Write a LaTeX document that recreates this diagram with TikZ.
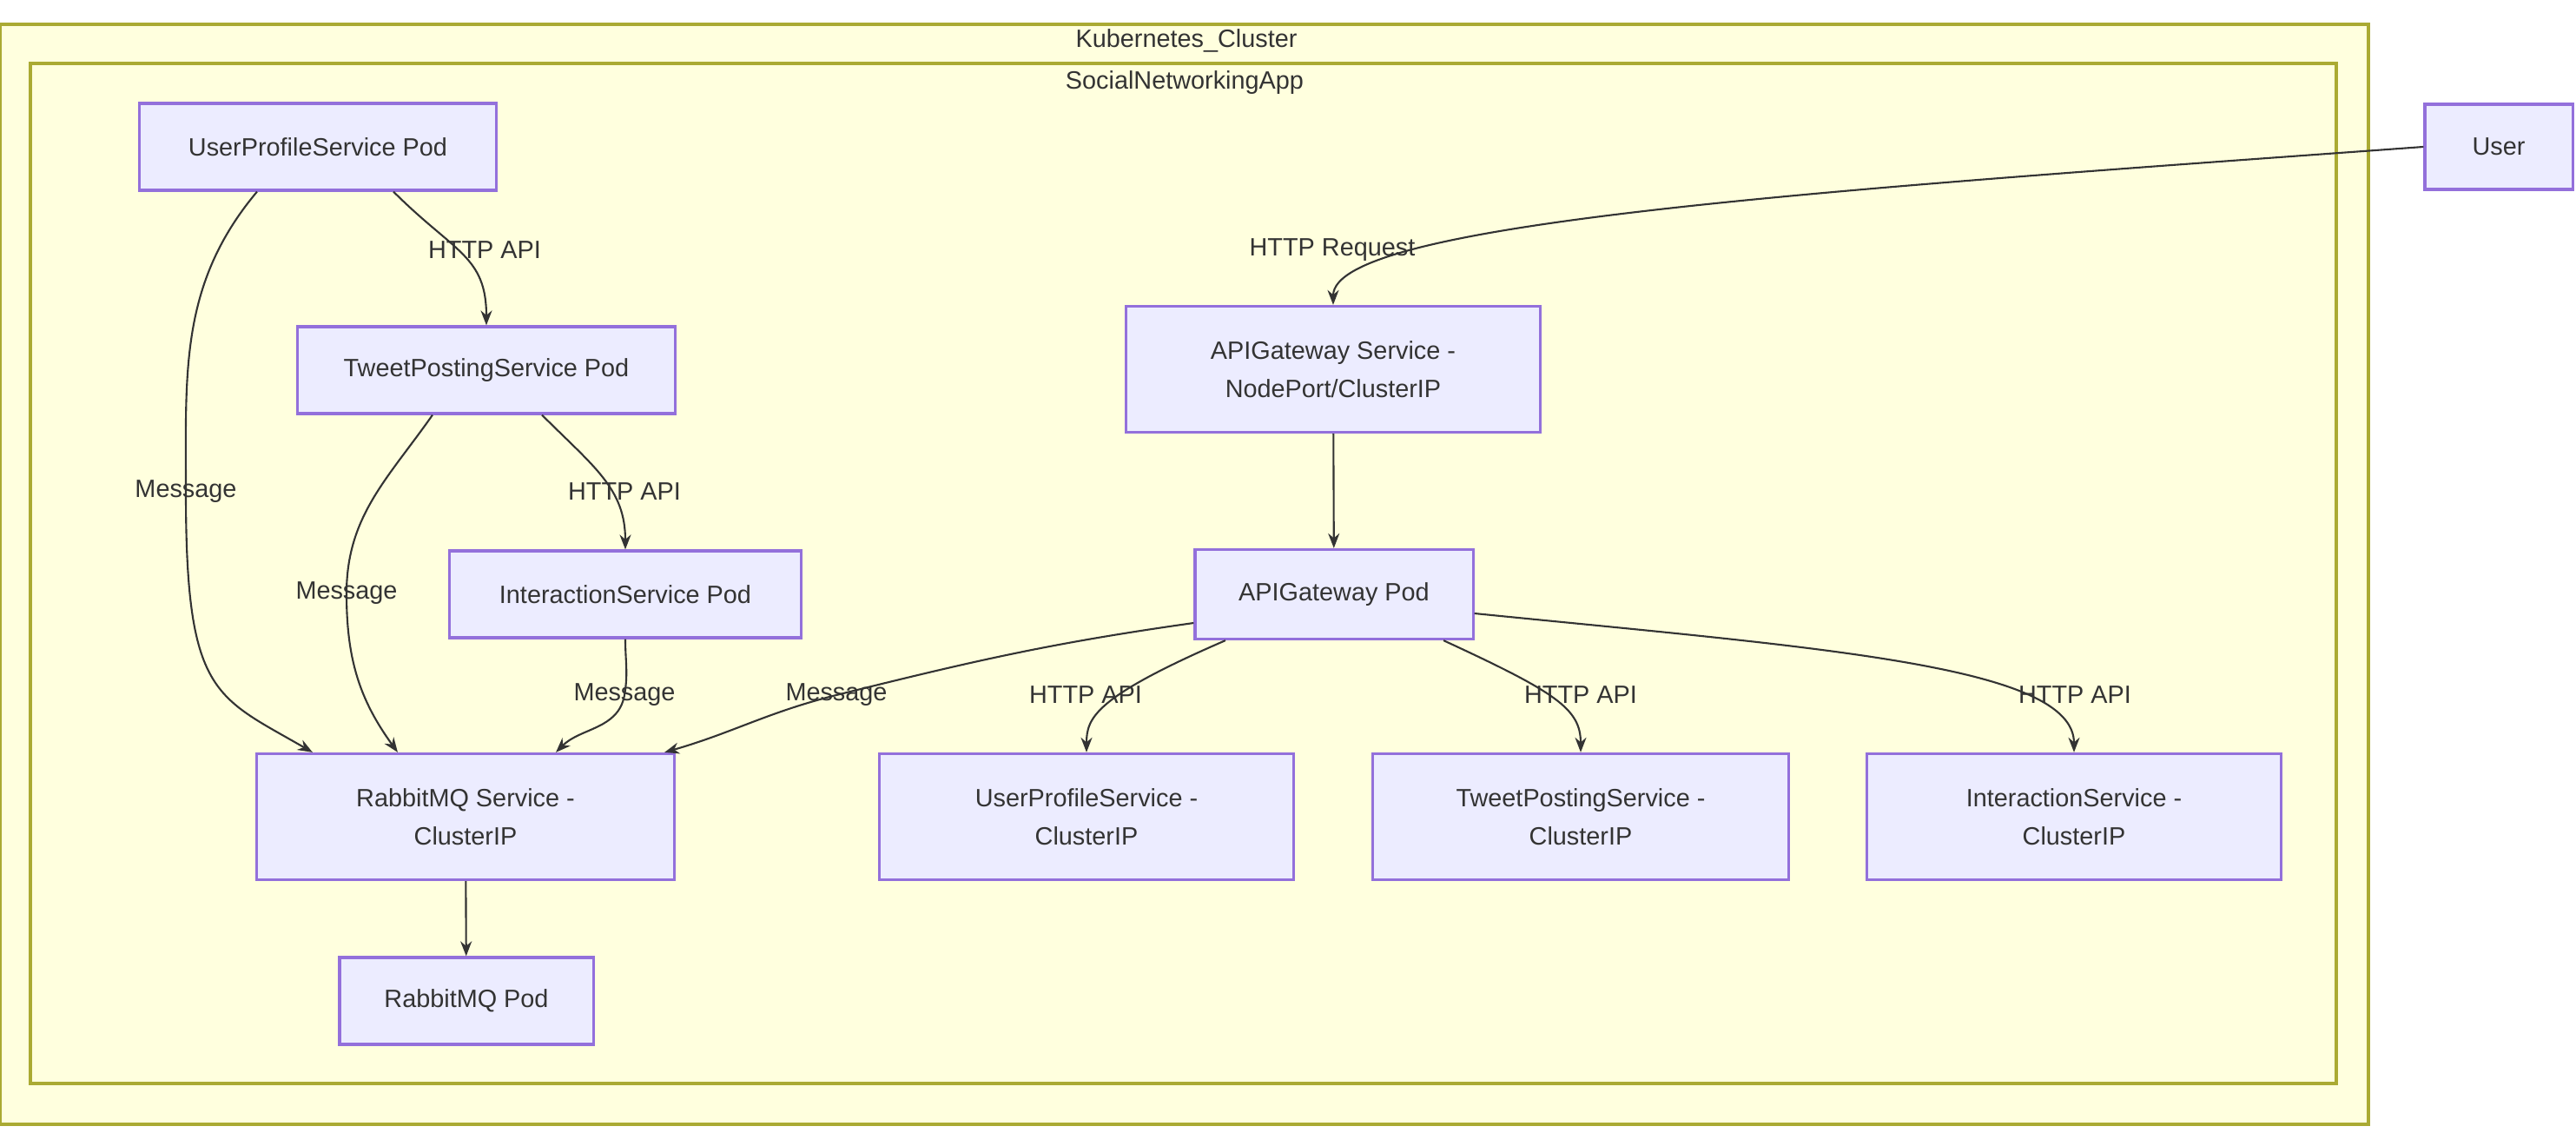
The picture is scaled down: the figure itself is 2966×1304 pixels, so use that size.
\documentclass[tikz,border=0pt]{standalone}
\usepackage{fontspec}
\setmainfont{Liberation Sans}
\usepackage{tikz}
\usetikzlibrary{arrows.meta}
\definecolor{nodefill}{HTML}{ECECFF}
\definecolor{nodeline}{HTML}{9370DB}
\definecolor{clusterfill}{HTML}{FFFFDE}
\definecolor{clusterline}{HTML}{AAAA33}
\definecolor{ink}{HTML}{333333}

\begin{document}
\begin{tikzpicture}[x=0.01cm, y=-0.01cm, >={Stealth[length=1.7mm, width=1.3mm]},
  font=\fontsize{8.2}{12.4}\selectfont, text=ink,
  cluster/.style={draw=clusterline, fill=clusterfill, line width=0.9pt},
  pod/.style={draw=nodeline, fill=nodefill, line width=0.9pt, align=center, minimum height=1cm},
  svc/.style={pod, minimum height=1.45cm},
  edge/.style={->, draw=ink, line width=0.6pt},
  lbl/.style={inner sep=1pt}]
\useasboundingbox (0,0) rectangle (2966,1304);
\draw[cluster] (0,28) rectangle (2727,1294);
\draw[cluster] (35,73) rectangle (2690,1247);
\node (k8sTitle) at (1366,47) {Kubernetes\_Cluster};
\node (appTitle) at (1364,95) {SocialNetworkingApp};

\node[pod, minimum width=4.10cm] (upsPod) at (366,169) {UserProfileService Pod};
\node[pod, minimum width=4.35cm] (tpsPod) at (560,426) {TweetPostingService Pod};
\node[pod, minimum width=4.05cm] (isPod) at (720,684) {InteractionService Pod};
\node[svc, minimum width=4.81cm] (rmqSvc) at (536,940) {RabbitMQ Service -\\ClusterIP};
\node[pod, minimum width=2.92cm] (rmqPod) at (537,1152) {RabbitMQ Pod};
\node[svc, minimum width=4.77cm] (gwSvc) at (1535,425) {APIGateway Service -\\NodePort/ClusterIP};
\node[pod, minimum width=3.20cm, minimum height=1.03cm] (gwPod) at (1536,684) {APIGateway Pod};
\node[svc, minimum width=4.76cm] (upsSvc) at (1251,940) {UserProfileService -\\ClusterIP};
\node[svc, minimum width=4.79cm] (tpsSvc) at (1820,940) {TweetPostingService -\\ClusterIP};
\node[svc, minimum width=4.77cm] (isSvc) at (2388,940) {InteractionService -\\ClusterIP};
\node[pod, minimum width=1.70cm, minimum height=0.98cm] (user) at (2877,169) {User};

\draw[edge] ([xshift=0.87cm]upsPod.south) .. controls +(70,70) and +(0,-80) .. (tpsPod.north) node[lbl] at (558,288) {HTTP API};
\draw[edge] ([xshift=-0.70cm]upsPod.south) to[out=-130, in=90] (214,566) node[lbl] {Message} to[out=-90, in=150, out looseness=1.8] ([xshift=-1.76cm]rmqSvc.north);
\draw[edge] ([xshift=-0.62cm]tpsPod.south) to[out=-125, in=90] (399,683) node[lbl] {Message} to[out=-90, in=126] ([xshift=-0.78cm]rmqSvc.north);
\draw[edge] ([xshift=0.64cm]tpsPod.south) .. controls +(60,60) and +(0,-70) .. (isPod.north) node[lbl] at (719,566) {HTTP API};
\draw[edge] (isPod.south) to[out=-90, in=80] (719,800) node[lbl] {Message} to[out=-100, in=45] ([xshift=1.04cm]rmqSvc.north);
\draw[edge] ([yshift=-0.33cm]gwPod.west) to[out=188, in=14] (963,800) node[lbl] {Message} to[out=194, in=16] ([xshift=2.29cm]rmqSvc.north);
\draw[edge] ([xshift=-1.25cm]gwPod.south) .. controls +(-150,65) and +(0,-40) .. (upsSvc.north) node[lbl] at (1250,800) {HTTP API};
\draw[edge] ([xshift=1.26cm]gwPod.south) .. controls +(130,60) and +(0,-50) .. (tpsSvc.north) node[lbl] at (1820,800) {HTTP API};
\draw[edge] ([yshift=-0.22cm]gwPod.east) .. controls +(400,40) and +(0,-100) .. (isSvc.north) node[lbl] at (2389,800) {HTTP API};
\draw[edge] (gwSvc) -- (gwPod);
\draw[edge] (user.west) .. controls +(-690,50) and +(0,-95) .. (gwSvc.north) node[lbl] at (1534,288) {HTTP Request};
\draw[edge] (rmqSvc) -- (rmqPod);
\end{tikzpicture}
\end{document}
